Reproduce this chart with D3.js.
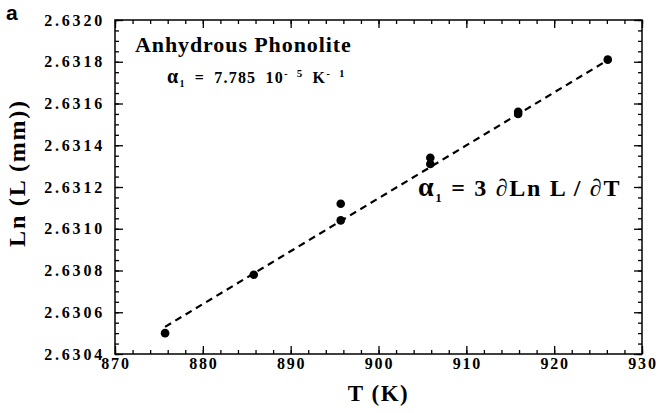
<!DOCTYPE html>
<html>
<head>
<meta charset="utf-8">
<script src="https://cdn.jsdelivr.net/npm/d3@7"></script>
<style>
  body { margin: 0; background: #fff; }
  svg text { font-weight: bold; fill: #000; }
  .tick-label { font-size: 16px; letter-spacing: 2.8px; }
  .xtick-label { font-size: 16px; letter-spacing: 1.8px; }
</style>
</head>
<body>
<div id="chart"></div>
<script>
// Data
const temperature = [875.7, 885.8, 895.7, 895.7, 905.9, 905.9, 915.9, 915.9, 926.1];
const lnLength = [2.63050, 2.63078, 2.63112, 2.63104, 2.63134, 2.63131, 2.63156, 2.63155, 2.63181];
const fitTemperature = [875.7, 925.8];
const fitLnLength = [2.63053, 2.63180];
const xTicks = [870, 880, 890, 900, 910, 920, 930];
const yTicks = [2.6304, 2.6306, 2.6308, 2.6310, 2.6312, 2.6314, 2.6316, 2.6318, 2.6320];

const serif = "'Liberation Serif', 'Times New Roman', Times, 'DejaVu Serif', serif";
const width = 658, height = 413;
const margin = { top: 20, right: 16, bottom: 59, left: 115 };
const innerW = width - margin.left - margin.right;
const innerH = height - margin.top - margin.bottom;

const svg = d3.select("#chart").append("svg")
    .attr("width", width)
    .attr("height", height)
    .attr("font-family", serif);
const g = svg.append("g")
    .attr("transform", `translate(${margin.left},${margin.top})`);

const x = d3.scaleLinear().domain([870, 930]).range([0, innerW]);
const y = d3.scaleLinear().domain([2.6304, 2.6320]).range([innerH, 0]);

// minor ticks: every 2 K and every 0.00005
const xMinor = d3.range(870, 930.01, 2);
const yMinor = d3.range(0, 33).map(i => 2.6304 + i * 0.00005);

function tickAxis(axisFn, scale, values, size, transform) {
    g.append("g")
        .attr("transform", transform)
        .call(axisFn(scale).tickValues(values).tickSize(size).tickFormat(""))
        .call(s => s.select(".domain").remove())
        .selectAll("line").attr("stroke", "#000").attr("stroke-width", 1.3);
}
// ticks point inwards on all four sides
tickAxis(d3.axisTop, x, xMinor, 4, `translate(0,${innerH})`);
tickAxis(d3.axisTop, x, xTicks, 8, `translate(0,${innerH})`);
tickAxis(d3.axisBottom, x, xMinor, 4, "translate(0,0)");
tickAxis(d3.axisBottom, x, xTicks, 8, "translate(0,0)");
tickAxis(d3.axisRight, y, yMinor, 4, "translate(0,0)");
tickAxis(d3.axisRight, y, yTicks, 8, "translate(0,0)");
tickAxis(d3.axisLeft, y, yMinor, 4, `translate(${innerW},0)`);
tickAxis(d3.axisLeft, y, yTicks, 8, `translate(${innerW},0)`);

// frame
g.append("rect")
    .attr("width", innerW)
    .attr("height", innerH)
    .attr("fill", "none")
    .attr("stroke", "#000")
    .attr("stroke-width", 1.5);

// tick labels
g.selectAll(".xlab")
    .data(xTicks)
    .join("text")
    .attr("class", "xtick-label")
    .attr("font-family", serif)
    .attr("x", d => x(d) + 1)
    .attr("y", innerH + 15)
    .attr("text-anchor", "middle")
    .text(d => d);

g.selectAll(".ylab")
    .data(yTicks)
    .join("text")
    .attr("class", "tick-label")
    .attr("font-family", serif)
    .attr("x", -10)
    .attr("y", d => y(d))
    .attr("dy", "0.35em")
    .attr("text-anchor", "end")
    .text(d => d.toFixed(4));

// axis titles
svg.append("text")
    .attr("x", margin.left + innerW / 2)
    .attr("y", 401)
    .attr("text-anchor", "middle")
    .attr("font-family", serif)
    .style("font-size", "23px")
    .style("letter-spacing", "1.5px")
    .text("T (K)");

svg.append("text")
    .attr("transform", `translate(25,${margin.top + 153}) rotate(-90)`)
    .attr("text-anchor", "middle")
    .attr("font-family", serif)
    .style("font-size", "24px")
    .style("letter-spacing", "1.8px")
    .text("Ln (L (mm))");

// panel letter
svg.append("text")
    .attr("x", 6)
    .attr("y", 20)
    .attr("font-family", "'Liberation Sans', Arial, sans-serif")
    .style("font-size", "21px")
    .text("a");

// fit line
const line = d3.line().x(d => x(d[0])).y(d => y(d[1]));
g.append("path")
    .datum(d3.zip(fitTemperature, fitLnLength))
    .attr("d", line)
    .attr("fill", "none")
    .attr("stroke", "#000")
    .attr("stroke-width", 2.2)
    .attr("stroke-dasharray", "7,5");

// data points
g.selectAll(".dot")
    .data(d3.zip(temperature, lnLength))
    .join("circle")
    .attr("cx", d => x(d[0]))
    .attr("cy", d => y(d[1]))
    .attr("r", 4.3)
    .attr("fill", "#000");

// annotations
g.append("text")
    .attr("x", 20)
    .attr("y", 32)
    .attr("font-family", serif)
    .style("font-size", "22px")
    .style("letter-spacing", "0.9px")
    .text("Anhydrous Phonolite");

const alpha = g.append("text")
    .attr("x", 52)
    .attr("y", 63)
    .attr("font-family", serif)
    .style("font-size", "16px")
    .style("letter-spacing", "1.2px")
    .style("word-spacing", "4px");
alpha.append("tspan").style("font-size", "20px").text("α");
alpha.append("tspan").attr("dy", 4).style("font-size", "10px").text("1");
alpha.append("tspan").attr("dy", -4).text("  =  7.785  10");
alpha.append("tspan").attr("dy", -6).style("font-size", "11px").text("- 5");
alpha.append("tspan").attr("dy", 6).text(" K");
alpha.append("tspan").attr("dy", -6).style("font-size", "11px").text("- 1");

const deriv = g.append("text")
    .attr("x", 303)
    .attr("y", 176)
    .attr("font-family", serif)
    .style("font-size", "24px")
    .style("letter-spacing", "1.7px");
deriv.append("tspan").style("font-size", "28px").text("α");
deriv.append("tspan").attr("dy", 6).style("font-size", "13px").text("1");
deriv.append("tspan").attr("dy", -6).text(" = 3 ∂Ln L / ∂T");
</script>
</body>
</html>
